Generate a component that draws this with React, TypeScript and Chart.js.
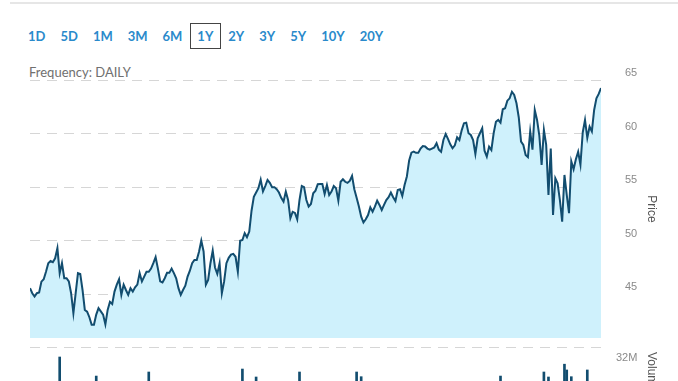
import React, { useEffect, useRef } from 'react';
import { Chart, registerables } from 'chart.js';

Chart.register(...registerables);

// ---------- data ----------
const rangeLabels = ['1D', '5D', '1M', '3M', '6M', '1Y', '2Y', '3Y', '5Y', '10Y', '20Y'];
const activeRange = '1Y';
const frequencyLabel = 'Frequency: DAILY';

// daily closing prices, one per trading day (1Y)
const prices = [
  45.57, 45.1, 44.79, 45.1, 45.16, 46.18, 46.4, 47.1, 47.9, 48.1,
  47.99, 48.36, 49.3, 46.97, 47.9, 46.5, 46.5, 46.2, 45.1, 43.24,
  45.1, 46.97, 46.9, 45.4, 43.54, 43.38, 42.86, 42.15, 42.15, 43.1,
  43.7, 43.4, 43.1, 42.2, 43.54, 44.3, 44.1, 45.25, 45.9, 46.4,
  44.94, 45.9, 45.4, 44.94, 45.57, 45.25, 45.66, 45.9, 46.97, 46.2,
  46.65, 47.1, 47.1, 47.4, 47.9, 48.46, 47.4, 46.2, 46.1, 46.5,
  47.0, 47.0, 47.4, 46.97, 46.5, 45.57, 44.94, 45.4, 45.8, 46.65,
  47.2, 47.9, 48.2, 48.2, 48.98, 50.0, 49.0, 45.9, 46.34, 47.9,
  49.08, 47.5, 46.9, 47.9, 45.1, 46.2, 47.9, 48.4, 48.7, 48.77,
  48.5, 47.1, 50.0, 50.07, 50.7, 50.33, 50.85, 52.8, 54.1, 54.5,
  54.9, 55.7, 54.6, 55.1, 55.67, 55.4, 55.0, 55.0, 54.8, 54.5,
  54.0, 53.65, 54.58, 53.8, 52.1, 52.7, 52.6, 52.0, 53.8, 55.1,
  55.0, 53.8, 53.18, 53.43, 54.43, 54.67, 55.27, 55.3, 55.3, 54.37,
  55.2, 54.27, 54.58, 55.1, 54.9, 53.74, 55.5, 55.74, 55.5, 55.4,
  55.58, 56.05, 54.8, 54.0, 53.2, 52.25, 51.7, 52.0, 52.4, 53.12,
  52.71, 53.18, 53.74, 53.34, 52.87, 53.34, 53.8, 54.06, 54.5, 54.06,
  53.7, 54.74, 54.8, 54.18, 55.2, 56.0, 57.5, 58.22, 58.31, 58.2,
  58.2, 58.6, 58.84, 58.8, 58.6, 58.5, 58.6, 58.7, 59.1, 58.5,
  58.3, 59.4, 59.96, 59.5, 59.0, 58.63, 58.9, 59.65, 59.4, 60.3,
  60.96, 61.02, 60.03, 59.87, 59.4, 58.1, 59.56, 60.03, 60.5, 58.4,
  57.85, 58.78, 58.47, 60.03, 61.1, 61.27, 61.02, 62.27, 62.36, 63.07,
  63.29, 63.9, 63.6, 62.83, 61.5, 59.25, 58.94, 58.0, 57.8, 60.2,
  58.5, 62.2, 61.27, 59.8, 57.07, 60.34, 58.94, 54.27, 58.6, 52.4,
  55.83, 55.36, 53.8, 51.78, 56.14, 54.27, 52.57, 57.4, 56.67, 57.6,
  58.3, 57.1, 60.1, 61.27, 59.6, 60.64, 60.2, 62.2, 63.3, 63.7,
  64.25,
];
const priceTicks = [45, 50, 55, 60, 65];
const priceMin = 40.92;
const priceMax = 65;

// volume bars visible in the cropped volume panel (trading-day index, shares)
const volumeDays = [13, 29, 52, 93, 99, 118, 143, 145, 206, 225, 227, 234, 235, 237, 244];
const volumes = [
  25.6e6, 13.4e6, 16.0e6, 17.9e6, 12.8e6, 16.0e6, 16.0e6, 13.0e6, 13.4e6,
  16.0e6, 12.8e6, 21.0e6, 17.3e6, 13.0e6, 17.3e6,
];
const volumeTicks = [32e6];
const volumeMax = 32e6;

// ---------- styles ----------
const LINE = '#124d6f';
const FILL = '#cff1fc';
const GRID = '#d6d6d6';
const TICK = '#8a8a8a';
const TITLE = '#555555';
const AXIS_FONT = "'Liberation Sans', Arial, sans-serif";

function fixAxis(scale: any) {
  scale.width = 77;
  scale.paddingTop = 0;
  scale.paddingBottom = 0;
}

function PriceChart() {
  const ref = useRef<HTMLCanvasElement>(null);
  useEffect(() => {
    const chart = new Chart(ref.current as HTMLCanvasElement, {
      type: 'line',
      data: {
        datasets: [
          {
            data: prices.map((p, i) => ({ x: i, y: p })),
            borderColor: LINE,
            borderWidth: 2,
            backgroundColor: FILL,
            fill: 'start',
            pointRadius: 0,
            tension: 0,
          },
        ],
      },
      options: {
        responsive: false,
        animation: false,
        events: [],
        layout: { padding: { top: 80, left: 30, right: 0, bottom: 7 } },
        plugins: { legend: { display: false }, tooltip: { enabled: false } },
        scales: {
          x: { type: 'linear', min: 0, max: prices.length - 1, display: false, offset: false },
          y: {
            position: 'right',
            min: priceMin,
            max: priceMax,
            afterBuildTicks: (axis: any) => {
              axis.ticks = priceTicks.map((v) => ({ value: v }));
            },
            afterFit: fixAxis,
            border: { display: false, dash: [10, 7] },
            grid: { color: GRID, drawTicks: false },
            ticks: {
              padding: 24,
              labelOffset: -7,
              color: TICK,
              font: { family: AXIS_FONT, size: 11 },
            },
            title: {
              display: true,
              text: 'Price',
              color: TITLE,
              font: { family: AXIS_FONT, size: 12 },
              padding: { top: 19, bottom: 0 },
            },
          },
        },
      },
    } as any);
    return () => chart.destroy();
  }, []);
  return (
    <canvas
      ref={ref}
      width={678}
      height={345}
      style={{ position: 'absolute', left: 0, top: 0, width: 678, height: 345 }}
    />
  );
}

function VolumeChart() {
  const ref = useRef<HTMLCanvasElement>(null);
  useEffect(() => {
    const chart = new Chart(ref.current as HTMLCanvasElement, {
      type: 'bar',
      data: {
        datasets: [
          {
            data: volumeDays.map((d, i) => ({ x: d, y: volumes[i] })),
            backgroundColor: LINE,
            barThickness: 2,
          },
        ],
      },
      options: {
        responsive: false,
        animation: false,
        events: [],
        layout: { padding: { top: 7, left: 30, right: 0, bottom: 0 } },
        plugins: { legend: { display: false }, tooltip: { enabled: false } },
        scales: {
          x: {
            type: 'linear',
            min: 0,
            max: prices.length - 1,
            display: false,
            offset: false,
            grid: { offset: false },
          },
          y: {
            position: 'right',
            min: 0,
            max: volumeMax,
            afterBuildTicks: (axis: any) => {
              axis.ticks = volumeTicks.map((v) => ({ value: v }));
            },
            afterFit: fixAxis,
            border: { display: false, dash: [10, 7] },
            grid: { color: GRID, drawTicks: false },
            ticks: {
              padding: 15,
              labelOffset: 10.5,
              color: TICK,
              font: { family: AXIS_FONT, size: 11 },
              callback: (v: any) => Math.round(Number(v) / 1e6) + 'M',
            },
            title: {
              display: true,
              text: 'Volume',
              color: TITLE,
              font: { family: AXIS_FONT, size: 12 },
              padding: { top: 19, bottom: 0 },
            },
          },
        },
      },
    } as any);
    return () => chart.destroy();
  }, []);
  return (
    <canvas
      ref={ref}
      width={678}
      height={57}
      style={{ position: 'absolute', left: 0, top: 340, width: 678, height: 57 }}
    />
  );
}

export default function App() {
  return (
    <div
      style={{
        position: 'absolute',
        left: 0,
        top: 0,
        width: 678,
        height: 381,
        overflow: 'hidden',
        background: '#fff',
      }}
    >
      <div
        style={{
          position: 'absolute',
          left: 10,
          right: 0,
          top: 2,
          height: 2,
          background: '#e6e6e6',
        }}
      />
      <div
        style={{
          position: 'absolute',
          left: 20.5,
          top: 23,
          display: 'flex',
          fontFamily: 'Lato, sans-serif',
          fontWeight: 700,
          fontSize: 13,
          color: '#2a8acb',
        }}
      >
        {rangeLabels.map((r) => (
          <span
            key={r}
            style={{
              boxSizing: 'border-box',
              height: 26,
              lineHeight: '24px',
              padding: '0 6.5px',
              border: r === activeRange ? '1px solid #444' : '1px solid transparent',
            }}
          >
            {r}
          </span>
        ))}
      </div>
      <div
        style={{
          position: 'absolute',
          left: 29,
          top: 63,
          fontFamily: 'Lato, sans-serif',
          fontSize: 13,
          color: '#707070',
          lineHeight: '18px',
        }}
      >
        {frequencyLabel}
      </div>
      <PriceChart />
      <VolumeChart />
    </div>
  );
}
